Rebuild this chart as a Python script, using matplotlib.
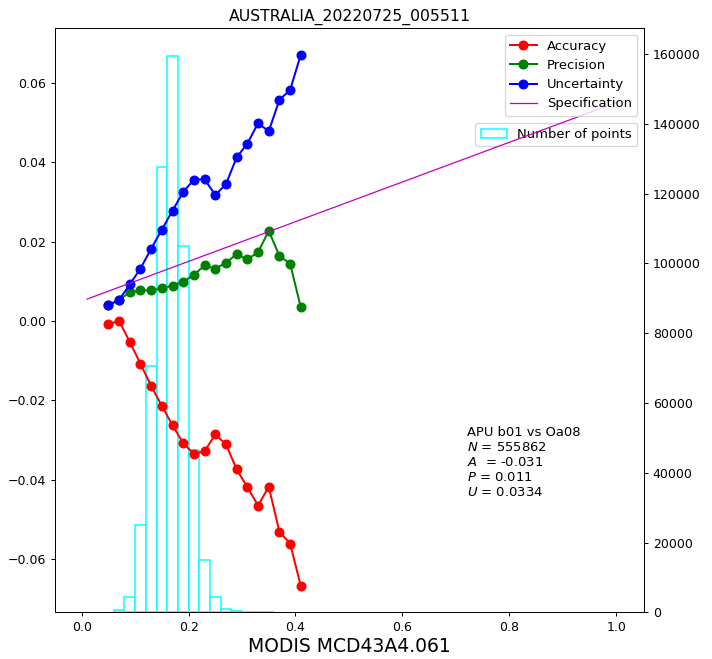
import matplotlib
matplotlib.use('Agg')
import matplotlib.pyplot as plt
import numpy as np

# bin centres of the reflectance classes
x = [0.05, 0.07, 0.09, 0.11, 0.13, 0.15, 0.17, 0.19, 0.21, 0.23,
     0.25, 0.27, 0.29, 0.31, 0.33, 0.35, 0.37, 0.39, 0.41]
accuracy = [-0.0008, 0.0000, -0.0053, -0.0108, -0.0164, -0.0214, -0.0263, -0.0308, -0.0335, -0.0328,
            -0.0286, -0.0311, -0.0374, -0.0419, -0.0465, -0.0418, -0.0531, -0.0561, -0.0668]
precision = [0.0040, 0.0053, 0.0072, 0.0077, 0.0077, 0.0082, 0.0089, 0.0099, 0.0116, 0.0140,
             0.0131, 0.0147, 0.0168, 0.0155, 0.0173, 0.0227, 0.0164, 0.0144, 0.0034]
uncertainty = [0.0040, 0.0053, 0.0092, 0.0132, 0.0182, 0.0230, 0.0278, 0.0325, 0.0356, 0.0357,
               0.0317, 0.0345, 0.0412, 0.0447, 0.0498, 0.0478, 0.0557, 0.0582, 0.0671]

# specification line end points
spec_x = [0.01, 1.0]
spec_y = [0.005 + 0.05 * v for v in spec_x]

# histogram of number of points (bin left edges, width 0.02)
hist_left = [0.06, 0.08, 0.10, 0.12, 0.14, 0.16, 0.18, 0.20, 0.22, 0.24,
             0.26, 0.28, 0.30, 0.32, 0.34]
hist_count = [660, 4300, 25000, 70500, 127600, 159600, 105000, 46500, 15000, 4300,
              860, 290, 120, 60, 30]

title = 'AUSTRALIA_20220725_005511'
xlabel = 'MODIS MCD43A4.061'
stats = 'APU b01 vs Oa08\n$N$ = 555862\n$A$  = -0.031\n$P$ = 0.011\n$U$ = 0.0334'

fig = plt.figure(figsize=(712/90, 659/90), dpi=90)
ax1 = fig.add_axes([0.0772, 0.0709, 0.8272, 0.8866])
ax2 = ax1.twinx()

ax2.bar(hist_left, hist_count, width=0.02, align='edge', facecolor='white',
        edgecolor='cyan', linewidth=1.2, label='Number of points')
ax2.set_ylim(0, 167500)
ax2.legend(loc='upper right', bbox_to_anchor=(1.0, 0.849), fontsize=10.5)

ax1.set_zorder(ax2.get_zorder() + 1)
ax1.patch.set_visible(False)

ax1.plot(x, accuracy, 'o-', color='red', markersize=7, linewidth=1.6, label='Accuracy')
ax1.plot(x, precision, 'o-', color='green', markersize=7, linewidth=1.6, label='Precision')
ax1.plot(x, uncertainty, 'o-', color='blue', markersize=7, linewidth=1.6, label='Uncertainty')
ax1.plot(spec_x, spec_y, '-', color='m', linewidth=1, label='Specification')
ax1.legend(loc='upper right', fontsize=10.5, labelspacing=0.47)

ax1.set_xlim(-0.05, 1.052)
ax1.set_ylim(-0.0734, 0.0738)
ax1.set_xticks([0.0, 0.2, 0.4, 0.6, 0.8, 1.0])
ax1.text(0.699, 0.318, stats, transform=ax1.transAxes, fontsize=10.5, va='top')
ax1.set_title(title, fontsize=12.5)
ax1.set_xlabel(xlabel, fontsize=15, labelpad=2)

fig.savefig('out.png', dpi=90)
